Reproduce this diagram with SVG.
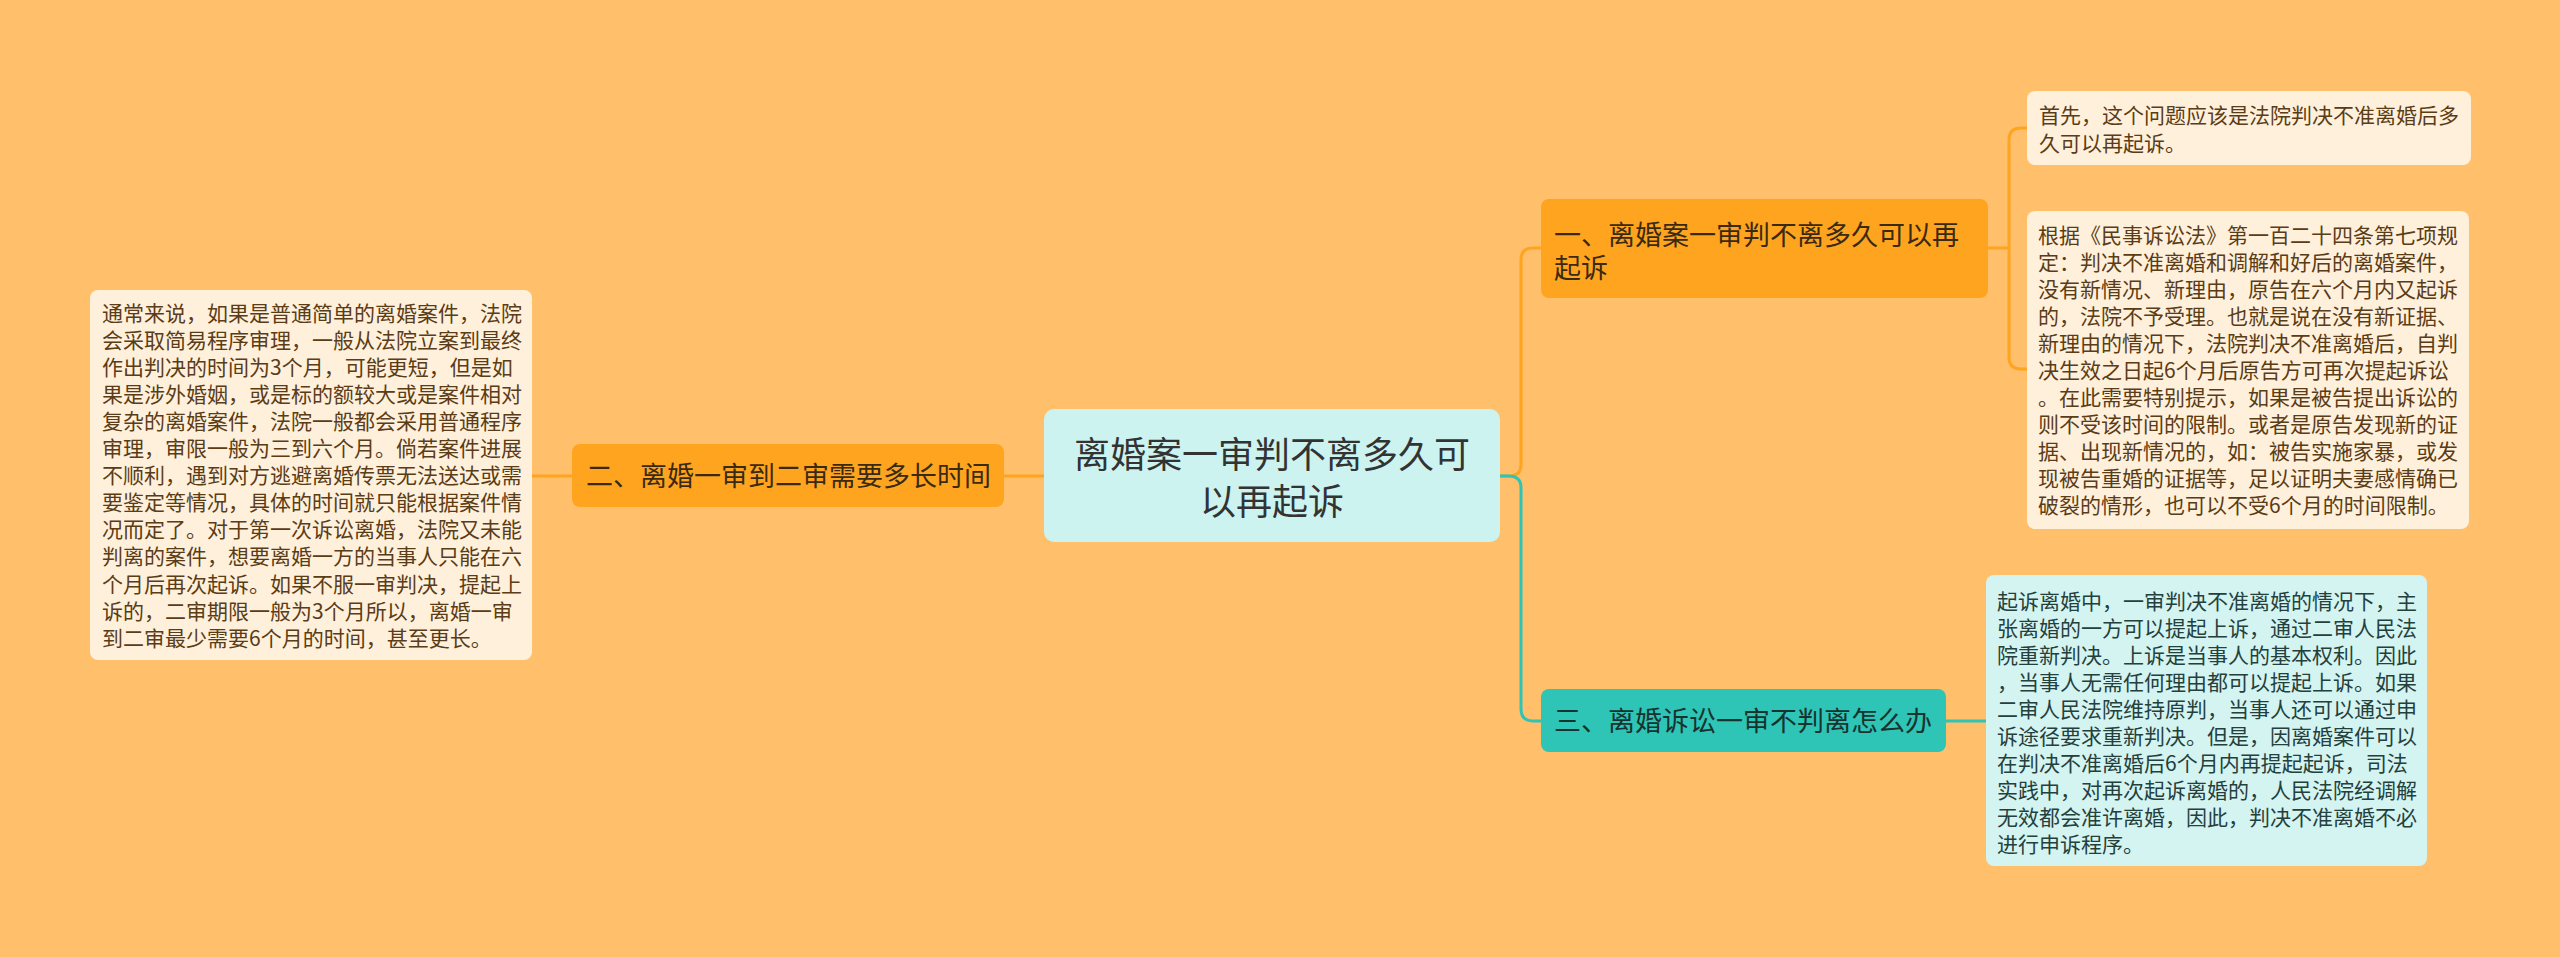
<svg xmlns="http://www.w3.org/2000/svg" width="2560" height="957" viewBox="0 0 2560 957">
<style>
text{font-family:"Noto Sans CJK SC","Noto Sans",sans-serif}
.leaf{font-size:21px;fill:#5a3c16}
.leaft{font-size:21px;fill:#24403d}
.sub{font-size:27px;fill:#3b2a12}
.subt{font-size:27px;fill:#17332f}
.root{font-size:36px;fill:#333333}
.co{fill:none;stroke:#FFA41F;stroke-width:3}
.ct{fill:none;stroke:#2EC4B6;stroke-width:3}
</style>
<rect width="2560" height="957" fill="#FFBF6B"/>
<g id="connectors">
<path class="co" d="M1500,476 H1509 Q1521,476 1521,464 V260 Q1521,248 1533,248 H1541"/>
<path class="ct" d="M1500,476 H1509 Q1521,476 1521,488 V709 Q1521,721 1533,721 H1541"/>
<path class="co" d="M1004,476 H1044"/>
<path class="co" d="M532,476 H572"/>
<path class="co" d="M1988,248 H2009"/>
<path class="co" d="M2027,128 H2021 Q2009,128 2009,140 V357 Q2009,369 2021,369 H2027"/>
<path class="ct" d="M1946,721 H1986"/>
</g>
<g id="root">
<rect x="1044" y="409" width="456" height="133" rx="10" fill="#CCF3F0"/>
<text class="root" text-anchor="middle"><tspan x="1272" y="468">离婚案一审判不离多久可</tspan><tspan x="1272" y="515">以再起诉</tspan></text>
</g>
<g id="n1">
<rect x="1541" y="199" width="447" height="99" rx="8" fill="#FFA41F"/>
<text class="sub"><tspan x="1554" y="245">一、离婚案一审判不离多久可以再</tspan><tspan x="1554" y="278">起诉</tspan></text>
</g>
<g id="n2">
<rect x="572" y="444" width="432" height="63" rx="8" fill="#FFA41F"/>
<text class="sub" x="586" y="486">二、离婚一审到二审需要多长时间</text>
</g>
<g id="n3">
<rect x="1541" y="689" width="405" height="63" rx="8" fill="#2EC4B6"/>
<text class="subt" x="1554" y="731">三、离婚诉讼一审不判离怎么办</text>
</g>
<g id="leaf-left">
<rect x="90" y="290" width="442" height="370" rx="8" fill="#FFF0DB"/>
<text class="leaf">
<tspan x="102" y="320.5">通常来说，如果是普通简单的离婚案件，法院</tspan>
<tspan x="102" y="347.6">会采取简易程序审理，一般从法院立案到最终</tspan>
<tspan x="102" y="374.7">作出判决的时间为3个月，可能更短，但是如</tspan>
<tspan x="102" y="401.8">果是涉外婚姻，或是标的额较大或是案件相对</tspan>
<tspan x="102" y="428.9">复杂的离婚案件，法院一般都会采用普通程序</tspan>
<tspan x="102" y="456">审理，审限一般为三到六个月。倘若案件进展</tspan>
<tspan x="102" y="483.1">不顺利，遇到对方逃避离婚传票无法送达或需</tspan>
<tspan x="102" y="510.2">要鉴定等情况，具体的时间就只能根据案件情</tspan>
<tspan x="102" y="537.3">况而定了。对于第一次诉讼离婚，法院又未能</tspan>
<tspan x="102" y="564.4">判离的案件，想要离婚一方的当事人只能在六</tspan>
<tspan x="102" y="591.5">个月后再次起诉。如果不服一审判决，提起上</tspan>
<tspan x="102" y="618.6">诉的，二审期限一般为3个月所以，离婚一审</tspan>
<tspan x="102" y="645.7">到二审最少需要6个月的时间，甚至更长。</tspan>
</text>
</g>
<g id="leaf-r1">
<rect x="2027" y="91" width="444" height="74" rx="8" fill="#FFF0DB"/>
<text class="leaf"><tspan x="2039" y="122.5">首先，这个问题应该是法院判决不准离婚后多</tspan><tspan x="2039" y="150.5">久可以再起诉。</tspan></text>
</g>
<g id="leaf-r2">
<rect x="2027" y="211" width="442" height="318" rx="8" fill="#FFF0DB"/>
<text class="leaf">
<tspan x="2038" y="242.5">根据《民事诉讼法》第一百二十四条第七项规</tspan>
<tspan x="2038" y="269.5">定：判决不准离婚和调解和好后的离婚案件，</tspan>
<tspan x="2038" y="296.5">没有新情况、新理由，原告在六个月内又起诉</tspan>
<tspan x="2038" y="323.5">的，法院不予受理。也就是说在没有新证据、</tspan>
<tspan x="2038" y="350.5">新理由的情况下，法院判决不准离婚后，自判</tspan>
<tspan x="2038" y="377.5">决生效之日起6个月后原告方可再次提起诉讼</tspan>
<tspan x="2038" y="404.5">。在此需要特别提示，如果是被告提出诉讼的</tspan>
<tspan x="2038" y="431.5">则不受该时间的限制。或者是原告发现新的证</tspan>
<tspan x="2038" y="458.5">据、出现新情况的，如：被告实施家暴，或发</tspan>
<tspan x="2038" y="485.5">现被告重婚的证据等，足以证明夫妻感情确已</tspan>
<tspan x="2038" y="512.5">破裂的情形，也可以不受6个月的时间限制。</tspan>
</text>
</g>
<g id="leaf-r3">
<rect x="1986" y="575" width="441" height="291" rx="8" fill="#D4F4F1"/>
<text class="leaft">
<tspan x="1997" y="608.5">起诉离婚中，一审判决不准离婚的情况下，主</tspan>
<tspan x="1997" y="635.6">张离婚的一方可以提起上诉，通过二审人民法</tspan>
<tspan x="1997" y="662.7">院重新判决。上诉是当事人的基本权利。因此</tspan>
<tspan x="1997" y="689.8">，当事人无需任何理由都可以提起上诉。如果</tspan>
<tspan x="1997" y="716.9">二审人民法院维持原判，当事人还可以通过申</tspan>
<tspan x="1997" y="744">诉途径要求重新判决。但是，因离婚案件可以</tspan>
<tspan x="1997" y="771.1">在判决不准离婚后6个月内再提起起诉，司法</tspan>
<tspan x="1997" y="798.2">实践中，对再次起诉离婚的，人民法院经调解</tspan>
<tspan x="1997" y="825.3">无效都会准许离婚，因此，判决不准离婚不必</tspan>
<tspan x="1997" y="852.4">进行申诉程序。</tspan>
</text>
</g>
</svg>
